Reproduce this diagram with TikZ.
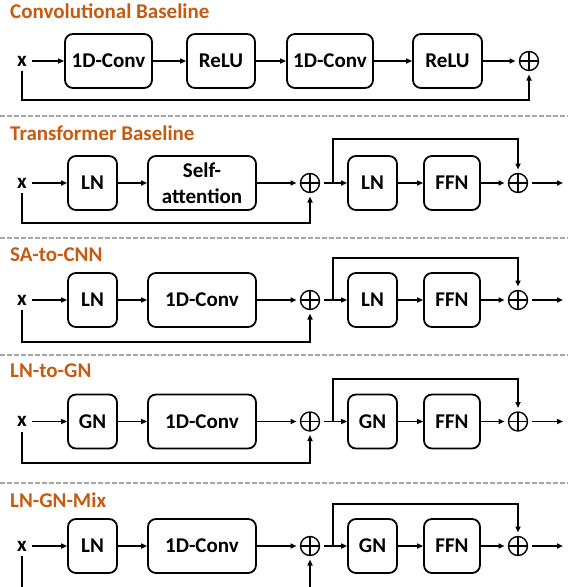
\documentclass[tikz,border=0pt]{standalone}
\usepackage{fontspec}
\setmainfont{Carlito}
\usetikzlibrary{arrows.meta}
\definecolor{ttl}{HTML}{C55A11}
\definecolor{sepg}{HTML}{A6A6A6}
\newcommand{\tfrow}[7]{%
 \node[xlab] (#1x) at (22,#2) {x};
 \node[box, minimum width=49] (#1a) at (92.5,#2) {#5};
 \node[box, minimum width=108] (#1b) at (202,#2) {#6};
 \node[oplus] (#1p) at (310,#2) {};
 \node[box, minimum width=49] (#1c) at (372.5,#2) {#7};
 \node[box, minimum width=56] (#1d) at (452,#2) {FFN};
 \node[oplus] (#1q) at (518,#2) {};
 \coordinate (#1br) at (333,#2);
 \coordinate (#1tp) at (333,#3);
 \coordinate (#1out) at (563,#2);
 \coordinate (#1sk) at (22,#4);
 \draw[conn] (#1x) -- (#1a);
 \draw[conn] (#1a) -- (#1b);
 \draw[conn] (#1b) -- (#1p);
 \draw[conn] (#1p) -- (#1c);
 \draw[conn] (#1c) -- (#1d);
 \draw[conn] (#1d) -- (#1q);
 \draw[conn] (#1q) -- (#1out);
 \draw[conn] (#1br) -- (#1tp) -| (#1q.north);
 \draw[conn] (#1x.south) -- (#1sk) -| (#1p.south);
}
\begin{document}
\begin{tikzpicture}[x=1pt,y=-1pt,
  every node/.style={font=\fontsize{21}{26}\selectfont\bfseries},
  box/.style={draw, line width=1.8pt, rounded corners=8pt, minimum height=54pt, inner sep=0pt, align=center},
  xlab/.style={inner xsep=3pt, inner ysep=3pt, outer sep=2pt},
  oplus/.style={draw, circle, line width=1.4pt, minimum size=19pt, inner sep=0pt, outer sep=4pt,
    path picture={\draw[line width=1.4pt] (path picture bounding box.north) -- (path picture bounding box.south)
      (path picture bounding box.west) -- (path picture bounding box.east);}},
  conn/.style={line width=1.8pt, -{Triangle[length=6pt,width=5pt]}},
  ttlsty/.style={text=ttl, anchor=base west, inner sep=0pt},
  sepline/.style={draw=sepg, line width=1.5pt, dash pattern=on 4.5pt off 2.5pt}]
\useasboundingbox (0,0) rectangle (568,587);
\clip (0,0) rectangle (568,587);
% titles
\node[ttlsty] (t1) at (10,18.5) {Convolutional Baseline};
\node[ttlsty] (t2) at (10,140) {Transformer Baseline};
\node[ttlsty] (t3) at (10,261.5) {SA-to-CNN};
\node[ttlsty] (t4) at (10,377) {LN-to-GN};
\node[ttlsty] (t5) at (10,507) {LN-GN-Mix};
% separators
\draw[sepline] (0,116) -- (568,116);
\draw[sepline] (0,238) -- (568,238);
\draw[sepline] (0,355) -- (568,355);
\draw[sepline] (0,483) -- (568,483);
% row 1
\node[xlab] (ax) at (22,61) {x};
\node[box, minimum width=87] (a1) at (108.5,61) {1D-Conv};
\node[box, minimum width=68] (a2) at (221,61) {ReLU};
\node[box, minimum width=86] (a3) at (330,61) {1D-Conv};
\node[box, minimum width=69] (a4) at (447.5,61) {ReLU};
\node[oplus] (ap) at (529,61) {};
\coordinate (ask) at (22,100);
\draw[conn] (ax) -- (a1);
\draw[conn] (a1) -- (a2);
\draw[conn] (a2) -- (a3);
\draw[conn] (a3) -- (a4);
\draw[conn] (a4) -- (ap);
\draw[conn] (ax.south) -- (ask) -| (ap.south);
% rows 2-5
\tfrow{b}{183}{139}{223}{LN}{Self-\\attention}{LN}
\tfrow{c}{300}{258}{342}{LN}{1D-Conv}{LN}
\tfrow{d}{421.5}{379}{463}{GN}{1D-Conv}{GN}
\tfrow{e}{546}{504}{620}{LN}{1D-Conv}{GN}
\end{tikzpicture}
\end{document}
